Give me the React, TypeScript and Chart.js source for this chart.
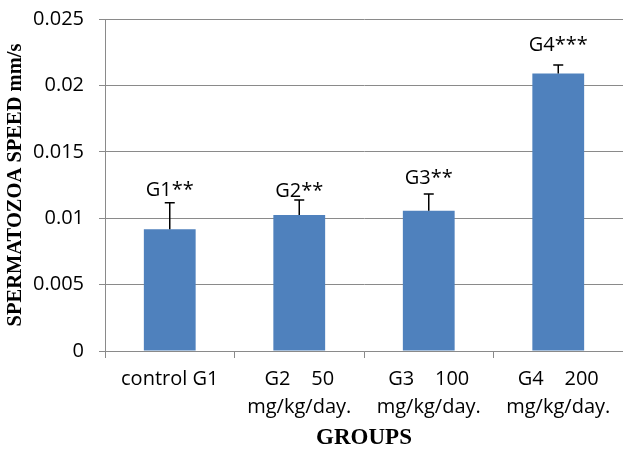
import React, { useEffect, useRef } from "react";
import { Chart, registerables } from "chart.js";

Chart.register(...registerables);

const categories: string[][] = [
  ["control G1"],
  ["G2    50", "mg/kg/day."],
  ["G3    100", "mg/kg/day."],
  ["G4    200", "mg/kg/day."],
];
const speeds = [0.00917, 0.01025, 0.01057, 0.02089];
const errors = [0.002, 0.00112, 0.00125, 0.00065];
const groupLabels = ["G1**", "G2**", "G3**", "G4***"];
const groupLabelValues = [0.01167, 0.0116, 0.01256, 0.02262];
const yTickLabels = ["0", "0.005", "0.01", "0.015", "0.02", "0.025"];

const TICK_FONT = "'Open Sans', 'Liberation Sans', sans-serif";
const TITLE_FONT = "'Liberation Serif', 'DejaVu Serif', serif";

const errorBarPlugin = {
  id: "errorBars",
  afterDatasetsDraw(chart: any) {
    const { ctx } = chart;
    const meta = chart.getDatasetMeta(0);
    const y = chart.scales.y;
    ctx.save();
    meta.data.forEach((bar: any, i: number) => {
      const x = bar.x;
      const yTop = y.getPixelForValue(speeds[i] + errors[i]);
      const yBar = y.getPixelForValue(speeds[i]);
      ctx.strokeStyle = "#000";
      ctx.lineWidth = 1.5;
      ctx.beginPath();
      ctx.moveTo(x, yBar);
      ctx.lineTo(x, yTop);
      ctx.moveTo(x - 5, yTop);
      ctx.lineTo(x + 5, yTop);
      ctx.stroke();
      ctx.fillStyle = "#000";
      ctx.font = `20px ${TICK_FONT}`;
      ctx.textAlign = "center";
      ctx.textBaseline = "alphabetic";
      ctx.fillText(groupLabels[i], x, y.getPixelForValue(groupLabelValues[i]));
    });
    ctx.restore();
  },
};

export default function App() {
  const ref = useRef<HTMLCanvasElement>(null);
  useEffect(() => {
    if (!ref.current) return;
    const chart = new Chart(ref.current, {
      type: "bar",
      data: {
        labels: categories,
        datasets: [
          {
            data: speeds,
            backgroundColor: "#4F81BD",
            borderWidth: 0,
            barPercentage: 0.4,
            categoryPercentage: 1,
          },
        ],
      },
      options: {
        responsive: false,
        animation: false,
        layout: { padding: { top: 19, right: 0, left: 0, bottom: 0 } },
        plugins: {
          legend: { display: false },
          tooltip: { enabled: false },
        },
        scales: {
          x: {
            grid: {
              display: true,
              drawOnChartArea: false,
              drawTicks: true,
              tickLength: 7,
              offset: true,
              color: "#8a8a8a",
            },
            border: { display: true, color: "#8a8a8a", width: 1 },
            ticks: {
              color: "#000",
              font: { family: TICK_FONT, size: 20, lineHeight: 1.4 },
              padding: 7,
              maxRotation: 0,
              autoSkip: false,
            },
            title: {
              display: true,
              text: "GROUPS",
              color: "#000",
              font: { family: TITLE_FONT, size: 23, weight: "bold", lineHeight: 1.2 },
              padding: { top: 0, bottom: -2 },
            },
            afterFit(scale: any) {
              scale.height = 99;
            },
          },
          y: {
            min: 0,
            max: 0.025,
            grid: {
              color: "#8a8a8a",
              drawTicks: true,
              tickLength: 6,
            },
            border: { display: true, color: "#8a8a8a", width: 1 },
            ticks: {
              stepSize: 0.005,
              color: "#000",
              font: { family: TICK_FONT, size: 20 },
              padding: 15,
              callback: (_v: any, i: number) => yTickLabels[i],
            },
            title: {
              display: true,
              text: "SPERMATOZOA SPEED mm/s",
              color: "#000",
              font: { family: TITLE_FONT, size: 20.5, weight: "bold", lineHeight: 1.2 },
              padding: { top: 3, bottom: 3 },
            },
            afterFit(scale: any) {
              scale.width = 105;
              scale.paddingTop = 10;
              scale.paddingBottom = 10;
            },
          },
        },
      },
      plugins: [errorBarPlugin],
    } as any);
    return () => chart.destroy();
  }, []);
  return (
    <canvas
      ref={ref}
      width={623}
      height={450}
      style={{ position: "fixed", left: 0, top: 0, display: "block", background: "#fff" }}
    />
  );
}
